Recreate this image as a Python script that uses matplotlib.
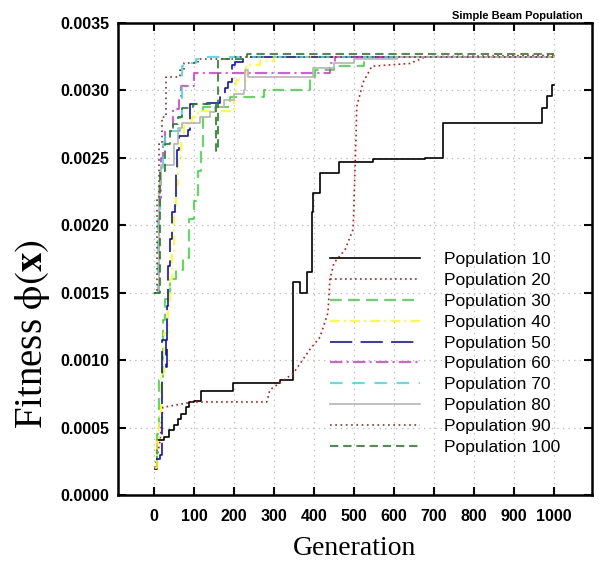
import matplotlib.pyplot as plt

plt.rcParams['lines.scale_dashes'] = False
plt.rcParams['mathtext.fontset'] = 'stix'

# generation / fitness steps
gen10 = [3, 8, 25, 38, 50, 60, 68, 80, 88, 100, 118, 198, 315, 348, 365, 382, 395, 398, 415, 462, 548, 678, 722, 970, 982, 995, 1000]
fit10 = [0.00019, 0.00041, 0.00043, 0.00048, 0.00052, 0.00056, 0.0006, 0.00065, 0.00069, 0.0007, 0.00077, 0.00083, 0.00085,
         0.00158, 0.0015, 0.00165, 0.0021, 0.00224, 0.00239, 0.00247, 0.00249, 0.0025, 0.00276, 0.00287, 0.00296, 0.00304, 0.00304]

gen20 = [3, 15, 22, 97, 282, 290, 323, 348, 390, 415, 435, 440, 450, 478, 498, 505, 507, 523, 545, 640, 680, 1000]
fit20 = [0.0002, 0.0004, 0.00065, 0.00069, 0.00069, 0.00078, 0.00085, 0.0009, 0.00108, 0.00117, 0.00135, 0.0016,
         0.00172, 0.00182, 0.00197, 0.00263, 0.00288, 0.00306, 0.00318, 0.0032, 0.00325, 0.00326]

gen30 = [5, 8, 12, 22, 28, 40, 55, 72, 88, 100, 110, 118, 122, 190, 275, 390, 402, 450, 525, 1000]
fit30 = [0.00025, 0.00045, 0.00085, 0.0013, 0.00145, 0.0016, 0.00167, 0.00176, 0.00205, 0.00218, 0.0024, 0.00256,
         0.00288, 0.00295, 0.003, 0.0031, 0.00315, 0.00318, 0.00325, 0.00326]

gen40 = [3, 8, 12, 18, 25, 35, 40, 45, 50, 55, 60, 68, 75, 95, 110, 200, 205, 230, 265, 300, 1000]
fit40 = [0.0002, 0.0004, 0.0006, 0.0009, 0.0012, 0.0014, 0.0016, 0.0018, 0.0021, 0.0023, 0.0025, 0.00268, 0.00275,
         0.0028, 0.00285, 0.00297, 0.00308, 0.00319, 0.00322, 0.00325, 0.00327]

gen50 = [5, 15, 20, 30, 33, 36, 40, 45, 52, 55, 58, 62, 85, 90, 132, 165, 177, 185, 195, 202, 222, 1000]
fit50 = [0.00027, 0.0003, 0.00115, 0.00095, 0.0014, 0.0017, 0.0019, 0.0021, 0.0022, 0.0024, 0.00256, 0.00266, 0.00271,
         0.0029, 0.00291, 0.00295, 0.00302, 0.00306, 0.00319, 0.00321, 0.00325, 0.00326]

gen60 = [1, 12, 18, 22, 27, 48, 62, 68, 100, 440, 452, 1000]
fit60 = [0.0015, 0.0022, 0.0025, 0.00262, 0.0027, 0.00286, 0.00295, 0.00303, 0.00313, 0.0032, 0.00325, 0.00325]

gen70 = [1, 10, 15, 22, 28, 65, 70, 90, 105, 120, 1000]
fit70 = [0.0015, 0.0021, 0.0024, 0.0026, 0.0027, 0.0028, 0.00318, 0.0032, 0.00323, 0.00325, 0.00325]

gen80 = [1, 12, 18, 50, 60, 70, 115, 140, 152, 175, 200, 225, 228, 235, 398, 450, 500, 607, 1000]
fit80 = [0.0015, 0.0023, 0.00245, 0.0026, 0.00272, 0.00276, 0.0028, 0.00284, 0.00288, 0.00293, 0.00297, 0.003,
         0.00315, 0.0031, 0.00317, 0.0032, 0.00323, 0.00325, 0.00325]

gen90 = [1, 8, 12, 20, 30, 65, 75, 110, 200, 1000]
fit90 = [0.0015, 0.0022, 0.0026, 0.0028, 0.0031, 0.00315, 0.0032, 0.00323, 0.00325, 0.00326]

gen100 = [1, 15, 27, 40, 48, 60, 70, 97, 155, 160, 232, 1000]
fit100 = [0.0015, 0.0024, 0.0026, 0.0027, 0.00275, 0.0028, 0.00287, 0.0029, 0.00255, 0.00323, 0.00327, 0.00327]

labels = ['Population 10', 'Population 20', 'Population 30', 'Population 40', 'Population 50',
          'Population 60', 'Population 70', 'Population 80', 'Population 90', 'Population 100']

fig = plt.figure(figsize=(5.99, 5.70), dpi=100)
ax = fig.add_axes([0.197, 0.1316, 0.791, 0.828])

lw = 1.2
ax.plot(gen10, fit10, color='black', lw=lw, drawstyle='steps-post', label=labels[0])
ax.plot(gen20, fit20, color='#d01010', lw=lw, linestyle=(0, (1.2, 2.4)), label=labels[1])
ax.plot(gen30, fit30, color='#33dd33', lw=lw, linestyle=(0, (8.5, 4.5)), drawstyle='steps-post', label=labels[2])
ax.plot(gen40, fit40, color='#ffff00', lw=lw, linestyle=(0, (7, 3, 1.5, 3)), drawstyle='steps-post', label=labels[3])
ax.plot(gen50, fit50, color='#1010d0', lw=lw, linestyle=(0, (16, 6)), drawstyle='steps-post', label=labels[4])
ax.plot(gen60, fit60, color='#dd33dd', lw=lw, linestyle=(0, (9, 3, 1.5, 3)), drawstyle='steps-post', label=labels[5])
ax.plot(gen70, fit70, color='#33dddd', lw=lw, linestyle=(0, (9, 7)), drawstyle='steps-post', label=labels[6])
ax.plot(gen80, fit80, color='#b4b4b4', lw=lw, drawstyle='steps-post', label=labels[7])
ax.plot(gen90, fit90, color='#8b3030', lw=lw, linestyle=(0, (1.2, 2.6)), drawstyle='steps-post', label=labels[8])
ax.plot(gen100, fit100, color='#208020', lw=lw, linestyle=(0, (6, 3.5)), drawstyle='steps-post', label=labels[9])

ax.set_xlim(-90, 1095)
ax.set_ylim(0, 0.0035)
ax.set_xticks(range(0, 1001, 100))
ax.set_yticks([0.0, 0.0005, 0.001, 0.0015, 0.002, 0.0025, 0.003, 0.0035])
ax.set_yticklabels(['%.4f' % v for v in ax.get_yticks()])
ax.tick_params(direction='in', length=6, width=1.5, top=True, right=True, labelsize=11.5, pad=6)
ax.tick_params(axis='x', pad=10)
for lab in ax.get_xticklabels() + ax.get_yticklabels():
    lab.set_fontweight('bold')
    lab.set_fontfamily('Liberation Sans')
for s in ax.spines.values():
    s.set_linewidth(1.8)
ax.grid(True, linestyle=(0, (1, 3)), color='#bdbdbd', linewidth=0.9)

ax.set_xlabel('Generation', fontsize=20, fontfamily='Liberation Serif', labelpad=9)
ax.set_ylabel(r'Fitness $\mathrm{\phi}(\mathbf{x})$', fontsize=28, fontfamily='Liberation Serif')
ax.yaxis.set_label_coords(-0.14, 0.34)
ax.set_title('Simple Beam Population', loc='right', fontsize=8, fontweight='bold',
             fontfamily='Liberation Sans', pad=3, x=0.981)

ax.legend(loc='upper left', bbox_to_anchor=(0.447, 0.515), frameon=False,
          prop={'family': 'Liberation Sans', 'size': 12.5}, handlelength=5.2, handletextpad=1.4,
          labelspacing=0.33, borderpad=0, borderaxespad=0)

fig.savefig('out.png', dpi=100)
